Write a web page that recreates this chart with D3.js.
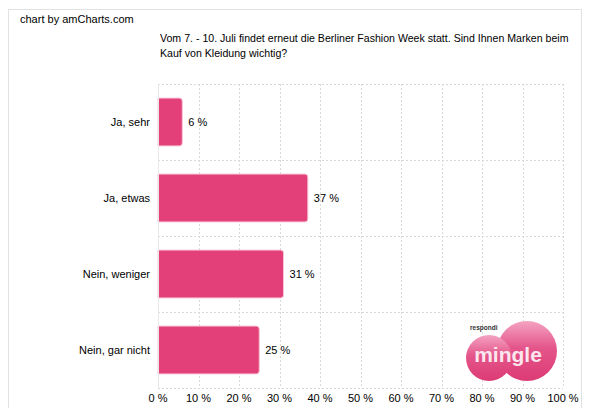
<!DOCTYPE html>
<html>
<head>
<meta charset="utf-8">
<script src="https://cdn.jsdelivr.net/npm/d3@7"></script>
<style>
  body { margin: 0; background: #fff; }
  text { font-family: "Liberation Sans", Arial, sans-serif; }
</style>
</head>
<body>
<div id="chart"></div>
<script>
const categories = ["Ja, sehr", "Ja, etwas", "Nein, weniger", "Nein, gar nicht"];
const values = [6, 37, 31, 25];
const ticks = [0, 10, 20, 30, 40, 50, 60, 70, 80, 90, 100];
const titleLines = [
  "Vom 7. - 10. Juli findet erneut die Berliner Fashion Week statt. Sind Ihnen Marken beim",
  "Kauf von Kleidung wichtig?"
];

const width = 597, height = 408;
const margin = { top: 84, left: 158, right: 34, bottom: 20 };

const svg = d3.select("#chart").append("svg")
  .attr("width", width)
  .attr("height", height);

// outer frame
svg.append("rect")
  .attr("x", 8.5).attr("y", 9.5)
  .attr("width", 573).attr("height", 410)
  .attr("fill", "none").attr("stroke", "#e2e2e2");

svg.append("text")
  .attr("x", 20).attr("y", 23)
  .attr("font-size", 11).attr("fill", "#000")
  .text("chart by amCharts.com");

svg.selectAll(".title")
  .data(titleLines)
  .enter().append("text")
  .attr("class", "title")
  .attr("x", 160)
  .attr("y", function (d, i) { return 42 + i * 15; })
  .attr("font-size", 10.6)
  .text(function (d) { return d; });

const x = d3.scaleLinear()
  .domain([0, 100])
  .range([margin.left, width - margin.right - 0]);

const y = d3.scaleBand()
  .domain(categories)
  .range([margin.top, height - margin.bottom])
  .paddingInner(0.37)
  .paddingOuter(0.185);

const plotBottom = height - margin.bottom;

// vertical grid
svg.append("g")
  .selectAll("line")
  .data(ticks)
  .enter().append("line")
  .attr("x1", function (d) { return Math.round(x(d)) + 0.5; })
  .attr("x2", function (d) { return Math.round(x(d)) + 0.5; })
  .attr("y1", margin.top)
  .attr("y2", plotBottom)
  .attr("stroke", "#d8d8d8")
  .attr("stroke-dasharray", "2,2");

// horizontal grid (band boundaries)
const hLines = d3.range(0, categories.length + 1).map(function (i) {
  return margin.top + i * (plotBottom - margin.top) / categories.length;
});
svg.append("g")
  .selectAll("line")
  .data(hLines)
  .enter().append("line")
  .attr("x1", x(0))
  .attr("x2", x(100))
  .attr("y1", function (d) { return Math.round(d) + 0.5; })
  .attr("y2", function (d) { return Math.round(d) + 0.5; })
  .attr("stroke", "#d8d8d8")
  .attr("stroke-dasharray", "2,2");

// bars with rounded right corners
const r = 3;
svg.append("g")
  .selectAll("path")
  .data(values)
  .enter().append("path")
  .attr("d", function (d, i) {
    const x0 = x(0), x1 = x(d), y0 = y(categories[i]), h = y.bandwidth();
    return "M" + x0 + "," + y0 +
      "H" + (x1 - r) +
      "Q" + x1 + "," + y0 + " " + x1 + "," + (y0 + r) +
      "V" + (y0 + h - r) +
      "Q" + x1 + "," + (y0 + h) + " " + (x1 - r) + "," + (y0 + h) +
      "H" + x0 + "Z";
  })
  .attr("fill", "#e3407a")
  .attr("stroke", "#f7c6d8")
  .attr("stroke-width", 1);

// value labels
svg.append("g")
  .selectAll("text")
  .data(values)
  .enter().append("text")
  .attr("x", function (d) { return x(d) + 6; })
  .attr("y", function (d, i) { return y(categories[i]) + y.bandwidth() / 2 + 4; })
  .attr("font-size", 11)
  .text(function (d) { return d + " %"; });

// category labels
svg.append("g")
  .selectAll("text")
  .data(categories)
  .enter().append("text")
  .attr("x", x(0) - 8)
  .attr("y", function (d) { return y(d) + y.bandwidth() / 2 + 4; })
  .attr("text-anchor", "end")
  .attr("font-size", 11)
  .text(function (d) { return d; });

// x axis labels
svg.append("g")
  .selectAll("text")
  .data(ticks)
  .enter().append("text")
  .attr("x", function (d) { return x(d); })
  .attr("y", plotBottom + 14)
  .attr("text-anchor", "middle")
  .attr("font-size", 11)
  .text(function (d) { return d + " %"; });

// y axis line
svg.append("line")
  .attr("x1", Math.round(x(0)) + 0.5).attr("x2", Math.round(x(0)) + 0.5)
  .attr("y1", margin.top).attr("y2", plotBottom)
  .attr("stroke", "#e8e8e8");

// respondi mingle logo
const logo = svg.append("g");
const grad = svg.append("defs").append("linearGradient")
  .attr("id", "pinkGrad").attr("x1", 0).attr("y1", 0).attr("x2", 0).attr("y2", 1);
grad.append("stop").attr("offset", "0%").attr("stop-color", "#f4a3c1");
grad.append("stop").attr("offset", "45%").attr("stop-color", "#e4558a");
grad.append("stop").attr("offset", "100%").attr("stop-color", "#dc3b74");
logo.append("circle").attr("cx", 527).attr("cy", 351).attr("r", 30).attr("fill", "url(#pinkGrad)");
logo.append("circle").attr("cx", 489).attr("cy", 358).attr("r", 23).attr("fill", "url(#pinkGrad)");
logo.append("text")
  .attr("x", 470).attr("y", 330)
  .attr("font-size", 6.5).attr("font-weight", "bold").attr("fill", "#333")
  .text("respondi");
logo.append("text")
  .attr("x", 508).attr("y", 362)
  .attr("text-anchor", "middle")
  .attr("font-size", 21).attr("font-weight", "bold").attr("fill", "#fbe6ee")
  .text("mingle");
</script>
</body>
</html>
